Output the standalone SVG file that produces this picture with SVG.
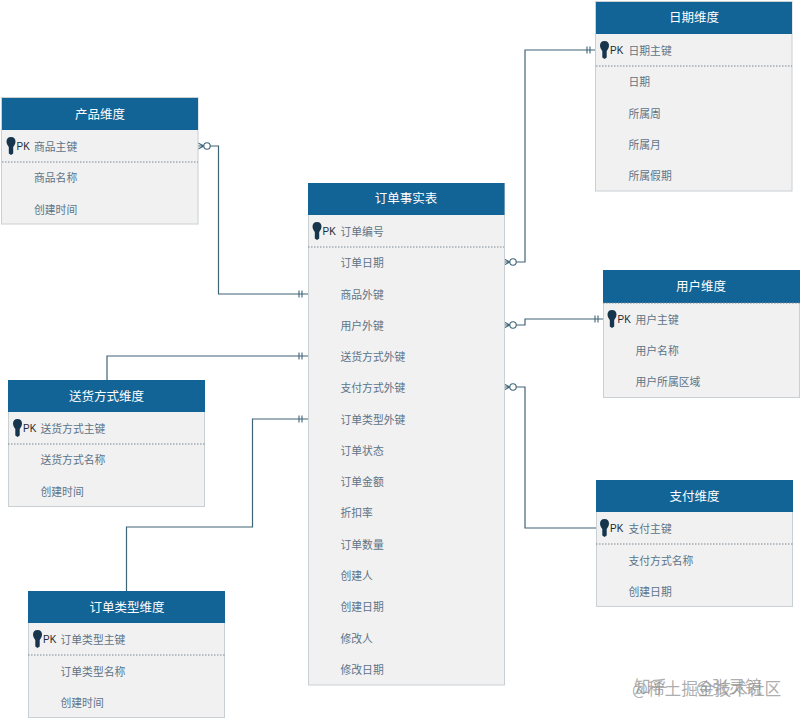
<svg xmlns="http://www.w3.org/2000/svg" width="802" height="720" viewBox="0 0 802 720">
<style>
text{font-family:"Noto Sans CJK SC","Liberation Sans",sans-serif}
.box{fill:#f1f1f1;stroke:#c9d0d3;stroke-width:1}
.hd{fill:#126396}
.ttl{fill:#fff;font-size:12.500px;text-anchor:middle;dominant-baseline:central}
.row{fill:#5d7488;font-size:10.800px;dominant-baseline:central}
.pk{fill:#1c2a33;font-size:10px;font-family:"Liberation Sans",sans-serif;dominant-baseline:central}
.dot{stroke:#7c8a94;stroke-width:1;stroke-dasharray:1.500 1.500;fill:none}
.ln{fill:none;stroke:#3f6478;stroke-width:1.200}
.sy{fill:none;stroke:#3f6478;stroke-width:1.100}
.circ{fill:#fff;stroke:#3f6478;stroke-width:1.100}
.wm{fill:#8a8a8a;fill-opacity:.7;font-size:16.700px}
</style>
<defs>
<g id="key"><path fill="#17364d" d="M0 -9C3 -9 4.500 -7 4.500 -4.500C4.500 -1.800 3 -.5 2.200 1L2.200 7.500L0 9L-2.200 7.500L-2.200 1C-3 -.5 -4.500 -1.800 -4.500 -4.500C-4.500 -7 -3 -9 0 -9Z"/></g>
<g id="cf"><path class="sy" d="M0 -3L6 0L0 3M0 0H6"/><circle class="circ" cx="9" cy="0" r="3.200"/></g>
<g id="bars"><path class="sy" d="M0 -3.500V3.500M3 -3.500V3.500"/></g>
</defs>

<g id="connectors">
<path class="ln" d="M210 146H218.500V294H308"/>
<path class="ln" d="M516 262H525V50H596"/>
<path class="ln" d="M516 325H525V319H603"/>
<path class="ln" d="M516 387H525V528H596"/>
<path class="ln" d="M107 380V356H308"/>
<path class="ln" d="M126.500 591V527H252.500V419H308"/>
<use href="#cf" x="198" y="146"/><use href="#cf" x="504" y="262"/><use href="#cf" x="504" y="325"/><use href="#cf" x="504" y="387"/>
<use href="#bars" x="299" y="294"/><use href="#bars" x="299" y="356"/><use href="#bars" x="299" y="419"/>
<use href="#bars" x="587" y="50"/><use href="#bars" x="595" y="319"/><use href="#bars" x="600" y="528"/>
</g>

<g id="product">
<rect class="box" x="1.500" y="97.500" width="196.500" height="126.500"/><rect class="hd" x="2" y="98" width="196" height="32"/>
<text class="ttl" x="100" y="113">产品维度</text><path class="dot" d="M2 162H198"/>
<use href="#key" x="11" y="146"/><text class="pk" x="16.500" y="146">PK</text>
<text class="row" x="34" y="146">商品主键</text><text class="row" x="34" y="177">商品名称</text><text class="row" x="34" y="209">创建时间</text>
</g>

<g id="date">
<rect class="box" x="595.500" y="1.500" width="196.500" height="189.500"/><rect class="hd" x="596" y="2" width="196" height="32"/>
<text class="ttl" x="694" y="16">日期维度</text><path class="dot" d="M596 66H792"/>
<use href="#key" x="604.500" y="50"/><text class="pk" x="610" y="50">PK</text>
<text class="row" x="628.500" y="50">日期主键</text><text class="row" x="628.500" y="81">日期</text><text class="row" x="628.500" y="113">所属周</text><text class="row" x="628.500" y="144">所属月</text><text class="row" x="628.500" y="175">所属假期</text>
</g>

<g id="fact">
<rect class="box" x="308.500" y="183.500" width="196" height="501.500"/><rect class="hd" x="308" y="183" width="196.500" height="32"/>
<text class="ttl" x="406" y="197">订单事实表</text><path class="dot" d="M308 247H504"/>
<use href="#key" x="317" y="231"/><text class="pk" x="322.500" y="231">PK</text>
<text class="row" x="340.500" y="231">订单编号</text><text class="row" x="340.500" y="262">订单日期</text><text class="row" x="340.500" y="294">商品外键</text><text class="row" x="340.500" y="325">用户外键</text><text class="row" x="340.500" y="356">送货方式外键</text><text class="row" x="340.500" y="387">支付方式外键</text><text class="row" x="340.500" y="419">订单类型外键</text><text class="row" x="340.500" y="450">订单状态</text><text class="row" x="340.500" y="481">订单金额</text><text class="row" x="340.500" y="512">折扣率</text><text class="row" x="340.500" y="544">订单数量</text><text class="row" x="340.500" y="575">创建人</text><text class="row" x="340.500" y="606">创建日期</text><text class="row" x="340.500" y="638">修改人</text><text class="row" x="340.500" y="669">修改日期</text>
</g>

<g id="user">
<rect class="box" x="603.500" y="270.500" width="196" height="127"/><rect class="hd" x="603" y="270" width="197" height="33"/>
<text class="ttl" x="701" y="285">用户维度</text><path class="dot" d="M603 303H800"/>
<use href="#key" x="612" y="319"/><text class="pk" x="617.500" y="319">PK</text>
<text class="row" x="635.500" y="319">用户主键</text><text class="row" x="635.500" y="350">用户名称</text><text class="row" x="635.500" y="381">用户所属区域</text>
</g>

<g id="shipping">
<rect class="box" x="8.500" y="380.500" width="196" height="126"/><rect class="hd" x="8" y="380" width="197" height="32"/>
<text class="ttl" x="106.500" y="395">送货方式维度</text><path class="dot" d="M8 444H205"/>
<use href="#key" x="17.500" y="428"/><text class="pk" x="23" y="428">PK</text>
<text class="row" x="40.500" y="428">送货方式主键</text><text class="row" x="40.500" y="459">送货方式名称</text><text class="row" x="40.500" y="491">创建时间</text>
</g>

<g id="payment">
<rect class="box" x="596.500" y="480.500" width="196" height="126"/><rect class="hd" x="596" y="480" width="197" height="32"/>
<text class="ttl" x="694.500" y="495">支付维度</text><path class="dot" d="M596 544H793"/>
<use href="#key" x="604.500" y="528"/><text class="pk" x="610" y="528">PK</text>
<text class="row" x="628.500" y="528">支付主键</text><text class="row" x="628.500" y="560">支付方式名称</text><text class="row" x="628.500" y="591">创建日期</text>
</g>

<g id="ordertype">
<rect class="box" x="28.500" y="591.500" width="196" height="126"/><rect class="hd" x="28" y="591" width="197" height="32"/>
<text class="ttl" x="127" y="606">订单类型维度</text><path class="dot" d="M28 655H225"/>
<use href="#key" x="37.500" y="639"/><text class="pk" x="43" y="639">PK</text>
<text class="row" x="60.500" y="639">订单类型主键</text><text class="row" x="60.500" y="671">订单类型名称</text><text class="row" x="60.500" y="702">创建时间</text>
</g>

<g id="watermark">
<text class="wm" y="693"><tspan x="634">知乎</tspan><tspan x="696">@张灵镜</tspan></text>
<text class="wm" x="632" y="695">@稀土掘金技术社区</text>
</g>
</svg>
